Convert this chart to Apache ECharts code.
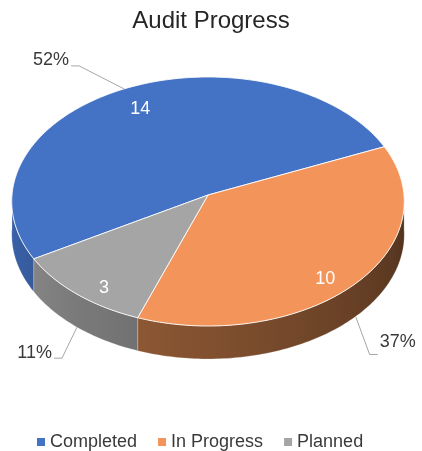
<!DOCTYPE html>
<html>
<head>
<meta charset="utf-8">
<script src="https://cdn.jsdelivr.net/npm/echarts@6/dist/echarts.min.js"></script>
<style>
  html, body { margin: 0; padding: 0; background: #fff; }
  #main { width: 422px; height: 451px; }
</style>
</head>
<body>
<div id="main"></div>
<script>
// data
var categories = ['Completed', 'In Progress', 'Planned'];
var counts = [14, 10, 3];

// look
var topColors = ['#4472C4', '#F3955A', '#A5A5A5'];
var sideColors = [[68, 114, 196], [205, 127, 75], [165, 165, 165]];
var font = '"Liberation Sans", Arial, sans-serif';

// fake 3D geometry
var CX = 208, CY = 195, RX = 196, RY = 124.5, PERSP = 0.052, DEPTH = 33;
var START = 240; // clockwise from 12 o'clock
// leader elbow offset from anchor, text y shift
var labelLayout = [[-45, -23, -5.5], [14, 38, -12.5], [-15, 31, -5.5]];

var total = counts.reduce(function (a, b) { return a + b; }, 0);

function proj(deg, r, drop) {
  var t = deg * Math.PI / 180;
  var u = r * Math.cos(t), v = r * Math.sin(t);
  var s = 1 - PERSP * v;
  return [CX + u * RX * s, CY - v * RY * s + drop];
}

function shade(rgb, f) {
  return 'rgb(' + rgb.map(function (c) { return Math.round(c * f); }).join(',') + ')';
}

function sideShade(i, deg) {
  var phi = ((deg % 360) + 360) % 360;
  var tt = Math.min(Math.max((phi - 180) / 180, 0), 1);
  return shade(sideColors[i], 0.88 - 0.5 * tt);
}

function renderSlice(i) {
  return function (params, api) {
    var value = api.value(0);
    var before = 0;
    for (var k = 0; k < i; k++) before += counts[k];
    var a0 = START + before / total * 360;
    var a1 = a0 + value / total * 360;
    var children = [];

    var angs = [];
    for (var a = a0; a < a1; a += 1) angs.push(a);
    angs.push(a1);

    // side: front part of the arc only
    var front = angs.filter(function (a) {
      return Math.sin((90 - a) * Math.PI / 180) <= 0.001;
    });
    if (front.length > 1) {
      var topArc = front.map(function (a) { return proj(90 - a, 1, 0); });
      var botArc = topArc.map(function (p) { return [p[0], p[1] + DEPTH]; }).reverse();
      var xs = topArc.map(function (p) { return p[0]; });
      var xmin = Math.min.apply(null, xs), xmax = Math.max.apply(null, xs);
      var stops = [];
      front.forEach(function (a, j) {
        if (j % 4 && j !== front.length - 1) return;
        stops.push({ offset: (topArc[j][0] - xmin) / (xmax - xmin || 1), color: sideShade(i, 90 - a) });
      });
      stops.sort(function (p, q) { return p.offset - q.offset; });
      children.push({
        type: 'polygon',
        z2: 1,
        shape: { points: topArc.concat(botArc) },
        style: {
          fill: { type: 'linear', x: xmin, y: 0, x2: xmax, y2: 0, global: true, colorStops: stops },
          stroke: 'rgba(255,255,255,0.35)', lineWidth: 0.6
        }
      });
    }

    // top face
    var pts = [[CX, CY]];
    angs.forEach(function (a) { pts.push(proj(90 - a, 1, 0)); });
    children.push({
      type: 'polygon',
      z2: 10,
      shape: { points: pts },
      style: { fill: topColors[i], stroke: 'rgba(255,255,255,0.85)', lineWidth: 1 }
    });

    // value label
    var mid = 90 - (a0 + a1) / 2;
    var isFront = Math.sin(mid * Math.PI / 180) < 0;
    var lp = proj(mid, 0.8, isFront ? 14 : 0);
    children.push({
      type: 'text',
      z2: 20,
      style: {
        x: lp[0], y: lp[1], text: String(value), fill: '#fff',
        fontSize: 18, fontFamily: font, align: 'center', verticalAlign: 'middle'
      }
    });

    // percent label with leader line
    var anchor = proj(mid, 1, isFront ? DEPTH : 0);
    var lay = labelLayout[i];
    var elbow = [anchor[0] + lay[0], anchor[1] + lay[1]];
    var dir = lay[0] < 0 ? -1 : 1;
    var end = [elbow[0] + dir * 8, elbow[1]];
    children.push({
      type: 'polyline',
      z2: 15,
      shape: { points: [anchor, elbow, end] },
      style: { stroke: '#A6A6A6', lineWidth: 1, fill: null }
    });
    children.push({
      type: 'text',
      z2: 20,
      style: {
        x: end[0] + dir * 2, y: elbow[1] + lay[2],
        text: Math.round(value / total * 100) + '%', fill: '#3a3a3a',
        fontSize: 18, fontFamily: font,
        align: dir < 0 ? 'right' : 'left', verticalAlign: 'middle'
      }
    });

    return { type: 'group', children: children };
  };
}

var myChart = echarts.init(document.getElementById('main'));
var option = {
  animation: false,
  title: {
    text: 'Audit Progress',
    left: 'center',
    top: 4,
    textStyle: { fontSize: 24, fontWeight: 'normal', color: '#262626', fontFamily: font }
  },
  legend: {
    data: categories,
    left: 32,
    top: 428,
    icon: 'rect',
    itemWidth: 8,
    itemHeight: 8,
    itemGap: 21,
    textStyle: { fontSize: 18, color: '#3a3a3a', fontFamily: font }
  },
  series: categories.map(function (name, i) {
    return {
      name: name,
      type: 'custom',
      coordinateSystem: 'none',
      silent: true,
      itemStyle: { color: topColors[i] },
      renderItem: renderSlice(i),
      data: [[counts[i]]]
    };
  })
};

myChart.setOption(option);
</script>
</body>
</html>
